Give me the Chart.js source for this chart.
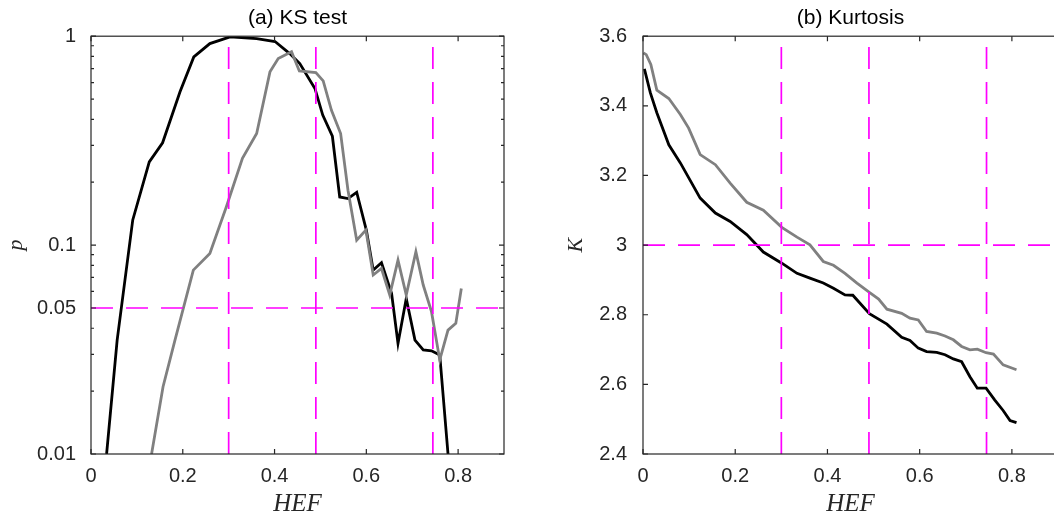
<!DOCTYPE html>
<html>
<head>
<meta charset="utf-8">
<script src="https://cdn.jsdelivr.net/npm/chart.js@4/dist/chart.umd.min.js"></script>
<style>
  html, body { margin: 0; padding: 0; background: #fff; overflow: hidden; }
  #wrapA { position: absolute; left: 0; top: 0; width: 530px; height: 519px; }
  #wrapB { position: absolute; left: 530px; top: 0; width: 540px; height: 519px; }
</style>
</head>
<body>
<div id="wrapA"><canvas id="ksChart" width="530" height="519"></canvas></div>
<div id="wrapB"><canvas id="kurtChart" width="540" height="519"></canvas></div>
<script>
// (a) KS test p-values vs HEF
const ksHefBlack = [0.034, 0.057, 0.091, 0.127, 0.156, 0.194, 0.224, 0.259, 0.303, 0.361, 0.401, 0.433, 0.455, 0.488, 0.505, 0.526, 0.542, 0.560, 0.579, 0.600, 0.615, 0.633, 0.655, 0.669, 0.687, 0.706, 0.724, 0.742, 0.760, 0.778];
const ksPBlack = [0.01, 0.0351, 0.132, 0.25, 0.309, 0.542, 0.796, 0.922, 0.993, 0.974, 0.943, 0.826, 0.740, 0.562, 0.419, 0.332, 0.170, 0.167, 0.179, 0.118, 0.0759, 0.0823, 0.0587, 0.0338, 0.0555, 0.0351, 0.0315, 0.0312, 0.0298, 0.01];
const ksHefGray = [0.132, 0.157, 0.183, 0.223, 0.259, 0.295, 0.330, 0.361, 0.390, 0.408, 0.437, 0.454, 0.490, 0.506, 0.524, 0.544, 0.560, 0.579, 0.599, 0.615, 0.633, 0.651, 0.669, 0.687, 0.708, 0.724, 0.742, 0.760, 0.778, 0.795, 0.807];
const ksPGray = [0.01, 0.021, 0.0351, 0.0759, 0.0912, 0.1526, 0.26, 0.342, 0.675, 0.782, 0.842, 0.682, 0.670, 0.611, 0.442, 0.342, 0.183, 0.1056, 0.118, 0.0719, 0.0773, 0.0577, 0.0848, 0.0577, 0.0929, 0.0644, 0.048, 0.0282, 0.0392, 0.0422, 0.062];

// (b) Kurtosis vs HEF
const kurtHefBlack = [0.003, 0.016, 0.030, 0.056, 0.081, 0.124, 0.157, 0.189, 0.225, 0.261, 0.301, 0.334, 0.362, 0.391, 0.413, 0.438, 0.455, 0.491, 0.529, 0.561, 0.579, 0.597, 0.615, 0.637, 0.655, 0.673, 0.691, 0.709, 0.725, 0.744, 0.763, 0.781, 0.796, 0.810];
const kurtKBlack = [3.506, 3.437, 3.380, 3.288, 3.236, 3.135, 3.092, 3.068, 3.030, 2.980, 2.948, 2.919, 2.905, 2.891, 2.876, 2.857, 2.856, 2.803, 2.773, 2.735, 2.726, 2.704, 2.694, 2.692, 2.685, 2.673, 2.665, 2.622, 2.589, 2.589, 2.555, 2.525, 2.496, 2.490];
const kurtHefGray = [0.001, 0.007, 0.017, 0.030, 0.056, 0.081, 0.099, 0.124, 0.157, 0.189, 0.225, 0.261, 0.301, 0.334, 0.362, 0.391, 0.413, 0.438, 0.464, 0.491, 0.511, 0.529, 0.561, 0.579, 0.597, 0.615, 0.637, 0.655, 0.673, 0.691, 0.709, 0.725, 0.744, 0.760, 0.781, 0.810];
const kurtKGray = [3.552, 3.547, 3.519, 3.445, 3.421, 3.375, 3.336, 3.260, 3.231, 3.178, 3.123, 3.100, 3.051, 3.023, 3.001, 2.953, 2.942, 2.919, 2.891, 2.864, 2.845, 2.816, 2.804, 2.790, 2.785, 2.752, 2.747, 2.739, 2.728, 2.709, 2.699, 2.701, 2.691, 2.687, 2.656, 2.642];

// ticks and reference lines
const hefTicks = [0, 0.2, 0.4, 0.6, 0.8];
const ksTicks = [0.01, 0.05, 0.1, 1];
const kurtTicks = [2.4, 2.6, 2.8, 3.0, 3.2, 3.4, 3.6];
const refHef = [0.3, 0.49, 0.745];
const refP = [0.05];
const refK = [3];

const tickFont = { family: "'Liberation Sans', Arial, sans-serif", size: 20, weight: 'normal' };
const titleFont = { family: "'Liberation Sans', Arial, sans-serif", size: 21, weight: 'normal' };
const mathFont = { family: "'Liberation Serif', 'Times New Roman', serif", size: 22, style: 'italic', weight: 'normal' };
const hefFont = { family: "'Liberation Serif', 'Times New Roman', serif", size: 25, style: 'italic', weight: 'normal' };
const textColor = '#262626';

// log minor ticks 0.02..0.09, 0.2..0.9
const logMinor = [];
[0.01, 0.1].forEach(d => { for (let k = 2; k <= 9; k++) logMinor.push(d * k); });

function makeFrame(refX, refY, majorY, minorY, rightTicks) {
  return {
    id: 'frame',
    afterDatasetsDraw(chart) {
      const { ctx, chartArea: a, scales } = chart;
      const xs = scales.x, ys = scales.y;
      ctx.save();
      ctx.strokeStyle = '#ff00ff';
      ctx.lineWidth = 1.7;
      ctx.setLineDash([22, 13]);
      refX.forEach(v => {
        const px = xs.getPixelForValue(v);
        ctx.beginPath(); ctx.moveTo(px, a.bottom); ctx.lineTo(px, a.top); ctx.stroke();
      });
      refY.forEach(v => {
        const py = ys.getPixelForValue(v);
        ctx.beginPath(); ctx.moveTo(a.left, py); ctx.lineTo(a.right, py); ctx.stroke();
      });
      ctx.setLineDash([]);

      ctx.strokeStyle = textColor;
      ctx.lineWidth = 1.2;
      ctx.strokeRect(a.left, a.top, a.right - a.left, a.bottom - a.top);

      ctx.beginPath();
      hefTicks.forEach(v => {
        const px = xs.getPixelForValue(v);
        ctx.moveTo(px, a.bottom); ctx.lineTo(px, a.bottom - 5);
        ctx.moveTo(px, a.top); ctx.lineTo(px, a.top + 5);
      });
      majorY.forEach(v => {
        const py = ys.getPixelForValue(v);
        ctx.moveTo(a.left, py); ctx.lineTo(a.left + 5, py);
        if (rightTicks) { ctx.moveTo(a.right, py); ctx.lineTo(a.right - 5, py); }
      });
      minorY.forEach(v => {
        const py = ys.getPixelForValue(v);
        ctx.moveTo(a.left, py); ctx.lineTo(a.left + 3, py);
        if (rightTicks) { ctx.moveTo(a.right, py); ctx.lineTo(a.right - 3, py); }
      });
      ctx.stroke();
      ctx.restore();
    }
  };
}

function pairs(xs, ys) {
  return xs.map((x, i) => ({ x, y: ys[i] }));
}

function xScale() {
  return {
    type: 'linear', min: 0, max: 0.9,
    grid: { display: false, drawTicks: false },
    border: { display: false },
    afterBuildTicks: s => { s.ticks = hefTicks.map(v => ({ value: v })); },
    afterFit: s => { s.height = 65; },
    ticks: {
      padding: 10, font: tickFont, color: textColor, maxRotation: 0, autoSkip: false,
      callback: v => v === 0 ? '0' : Number(v).toFixed(1)
    },
    title: { display: true, text: 'HEF', font: hefFont, color: textColor, padding: { top: 0, bottom: 0 } }
  };
}

function baseOptions(title, padRight) {
  return {
    responsive: false,
    animation: false,
    layout: { padding: { left: 0, right: padRight, top: 0, bottom: 0 } },
    elements: { point: { radius: 0 }, line: { tension: 0 } },
    plugins: {
      legend: { display: false },
      tooltip: { enabled: false },
      title: {
        display: true, text: title, fullSize: false,
        font: titleFont, color: '#000', padding: { top: 6, bottom: 5 }
      }
    }
  };
}

const ksOptions = baseOptions('(a) KS test', 26);
ksOptions.scales = {
  x: xScale(),
  y: {
    type: 'logarithmic', min: 0.01, max: 1,
    grid: { display: false, drawTicks: false },
    border: { display: false },
    afterBuildTicks: s => { s.ticks = ksTicks.map(v => ({ value: v })); },
    afterFit: s => { s.width = 91; },
    ticks: { padding: 15, font: tickFont, color: textColor, autoSkip: false, callback: v => String(v) },
    title: { display: true, text: 'p', font: mathFont, color: textColor, padding: { top: 3, bottom: 0 } }
  }
};

new Chart(document.getElementById('ksChart'), {
  type: 'line',
  data: {
    datasets: [
      { label: 'gray', data: pairs(ksHefGray, ksPGray), borderColor: '#808080', borderWidth: 2.8 },
      { label: 'black', data: pairs(ksHefBlack, ksPBlack), borderColor: '#000000', borderWidth: 2.8 }
    ]
  },
  options: ksOptions,
  plugins: [makeFrame(refHef, refP, ksTicks, logMinor, true)]
});

const kurtOptions = baseOptions('(b) Kurtosis', 12);
kurtOptions.scales = {
  x: xScale(),
  y: {
    type: 'linear', min: 2.4, max: 3.6,
    grid: { display: false, drawTicks: false },
    border: { display: false },
    afterBuildTicks: s => { s.ticks = kurtTicks.map(v => ({ value: v })); },
    afterFit: s => { s.width = 113; },
    ticks: { padding: 16, font: tickFont, color: textColor, autoSkip: false, callback: v => String(Number(Number(v).toFixed(1))) },
    title: { display: true, text: 'K', font: mathFont, color: textColor, padding: { top: 33, bottom: 0 } }
  }
};

new Chart(document.getElementById('kurtChart'), {
  type: 'line',
  data: {
    datasets: [
      { label: 'gray', data: pairs(kurtHefGray, kurtKGray), borderColor: '#808080', borderWidth: 2.8 },
      { label: 'black', data: pairs(kurtHefBlack, kurtKBlack), borderColor: '#000000', borderWidth: 2.8 }
    ]
  },
  options: kurtOptions,
  plugins: [makeFrame(refHef, refK, kurtTicks, [], false)]
});
</script>
</body>
</html>
